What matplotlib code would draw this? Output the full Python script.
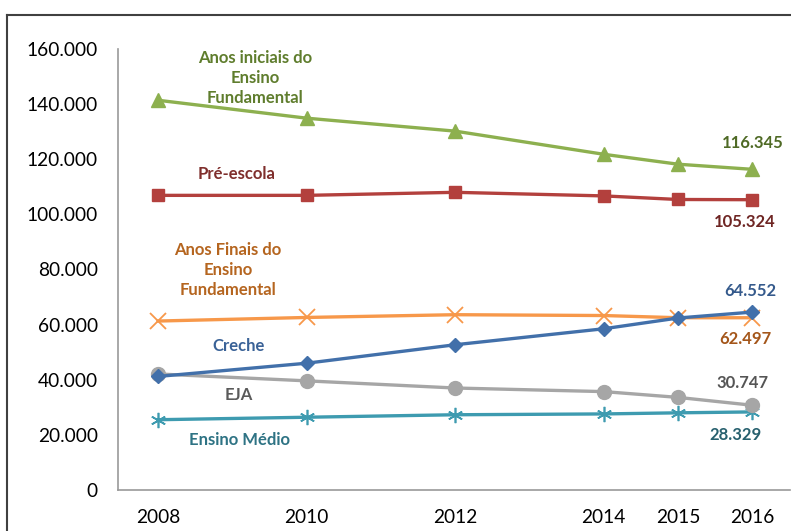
import matplotlib
matplotlib.use("Agg")
import matplotlib.pyplot as plt
from matplotlib.lines import Line2D

plt.rcParams['font.family'] = ['Lato', 'DejaVu Sans']

anos = [2008, 2010, 2012, 2014, 2015, 2016]

anos_iniciais = [141400, 134900, 130200, 121800, 118200, 116345]
pre_escola = [106900, 106900, 108000, 106700, 105400, 105324]
anos_finais = [61300, 62600, 63600, 63300, 62500, 62497]
creche = [41200, 46000, 52700, 58500, 62400, 64552]
eja = [42100, 39600, 37000, 35700, 33600, 30747]
ensino_medio = [25500, 26400, 27300, 27600, 28000, 28329]

y_ticks = [0, 20000, 40000, 60000, 80000, 100000, 120000, 140000, 160000]
y_labels = ['0', '20.000', '40.000', '60.000', '80.000', '100.000', '120.000', '140.000', '160.000']

fig = plt.figure(figsize=(7.91, 5.31), dpi=100)
ax = fig.add_axes([118 / 791, 1 - 490 / 531, 1 - 118 / 791 - 0.001, (490 - 49) / 531])

# linhas (ordem de desenho: as de baixo primeiro)
ax.plot(anos, anos_iniciais, color='#8DB04F', lw=2.4, marker='^', ms=10, zorder=3)
ax.plot(anos, pre_escola, color='#B3403D', lw=2.4, marker='s', ms=9, zorder=3)
ax.plot(anos, ensino_medio, color='#3E9BB0', lw=2.4, marker=(6, 2, 0), ms=11, mew=1.2, zorder=3)
ax.plot(anos, eja, color='#A6A6A6', lw=2.4, marker='o', ms=10, zorder=3)
ax.plot(anos, creche, color='#4270AA', lw=2.4, marker='D', ms=7, zorder=4)
ax.plot(anos, anos_finais, color='#F7984A', lw=2.4, marker='x', ms=11, mew=1.3, zorder=3)

ax.set_xlim(2007.46, 2016.51)
ax.set_ylim(0, 160000)
ax.set_yticks(y_ticks)
ax.set_yticklabels(y_labels)
ax.set_xticks(anos)
ax.set_xticklabels([str(a) for a in anos])
ax.tick_params(length=0, labelsize=13.8, colors='black')
ax.tick_params(axis='y', pad=14.5)
ax.tick_params(axis='x', pad=14)
for s in ['top', 'right']:
    ax.spines[s].set_visible(False)
for s in ['left', 'bottom']:
    ax.spines[s].set_color('#999999')
    ax.spines[s].set_linewidth(1.2)

bold = dict(fontweight='bold', fontsize=12, ha='center', va='center', linespacing=1.3)

# nomes das series
ax.text(2009.31, 149600, 'Anos iniciais do\nEnsino\nFundamental', color='#5F7D2D', **bold)
ax.text(2009.06, 114800, 'Pré-escola', color='#7F2E2C', **bold)
ax.text(2008.94, 79800, 'Anos Finais do\nEnsino\nFundamental', color='#B5651F', **bold)
ax.text(2009.08, 52400, 'Creche', color='#3A6297', **bold)
ax.text(2009.08, 34500, 'EJA', color='#5A5A5A', **bold)
ax.text(2009.09, 18200, 'Ensino Médio', color='#2E7384', **bold)

# valores de 2016
ax.text(2016.0, 126000, '116.345', color='#4F6A25', **bold)
ax.text(2015.90, 97200, '105.324', color='#6E2523', **bold)
ax.text(2015.97, 72200, '64.552', color='#355A8C', **bold)
ax.text(2015.90, 54700, '62.497', color='#A4561A', **bold)
ax.text(2015.87, 39000, '30.747', color='#555555', **bold)
ax.text(2015.77, 20000, '28.329', color='#27606E', **bold)

# moldura externa
fig.add_artist(Line2D([7 / 791, 7 / 791], [0, 1 - 15 / 531], color='#404040', lw=1.5))
fig.add_artist(Line2D([7 / 791, 1], [1 - 15 / 531, 1 - 15 / 531], color='#404040', lw=1.5))

fig.savefig('out.png', dpi=100)
